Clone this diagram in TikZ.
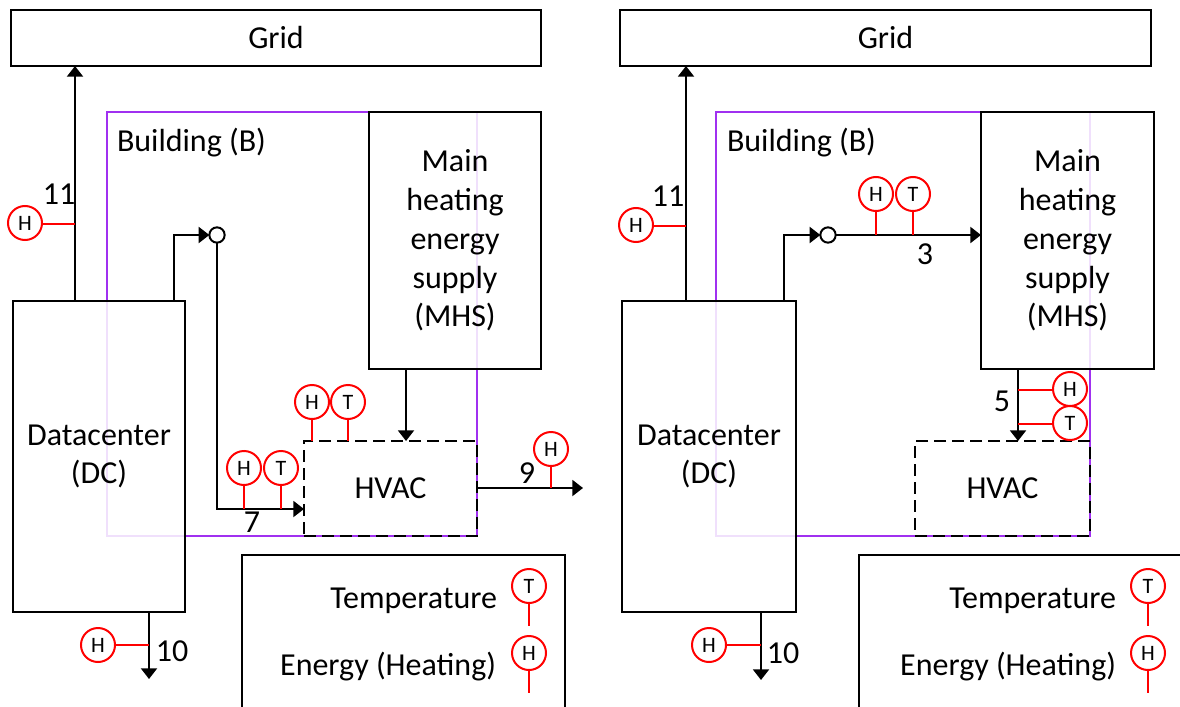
\documentclass[tikz,border=0pt]{standalone}
\usepackage{fontspec}
\setmainfont{Carlito}
\usetikzlibrary{arrows.meta}
\definecolor{bldg}{HTML}{A030F0}
\definecolor{sens}{HTML}{FF0000}
\newcommand{\bx}[7]{%
 \pgfmathsetmacro\bxcx{(#3+#5)/2}\pgfmathsetmacro\bxcy{(#4+#6)/2}%
 \pgfmathsetmacro\bxw{(#5-#3)*0.75}\pgfmathsetmacro\bxh{(#6-#4)*0.75}%
 \node[#1,minimum width=\bxw pt,minimum height=\bxh pt,label={[boxtext]center:{#7}}] (#2) at (\bxcx,\bxcy) {};}
\tikzset{
 x=0.75pt,y=-0.75pt,
 base/.style={inner sep=0pt,outer sep=0pt,font=\fontsize{24}{29.1}\selectfont,align=center},
 boxtext/.style={base},
 solidbox/.style={base,draw=black,line width=1.5pt,fill=white,fill opacity=0.85},
 dcbox/.style={solidbox,every label/.append style={yshift=-1.5pt}},
 mhsbox/.style={solidbox,every label/.append style={yshift=-0.75pt}},
 plainbox/.style={base,draw=black,line width=1.5pt,fill=white},
 hvacbox/.style={base,draw=black,line width=1.5pt,dash pattern=on 9pt off 4.5pt},
 legendbox/.style={base,draw=black,line width=1.5pt},
 wall/.style={draw=bldg,line width=1.5pt},
 wire/.style={draw=black,line width=1.5pt},
 flow/.style={wire,-{Triangle[width=12pt,length=8pt]}},
 sensor/.style={circle,draw=sens,line width=1.5pt,fill=white,inner sep=0pt,minimum size=25.5pt,outer sep=0pt,font=\fontsize{16.5}{16.5}\selectfont},
 stem/.style={draw=sens,line width=1.5pt},
 junction/.style={circle,draw=black,line width=1.5pt,fill=white,inner sep=0pt,minimum size=11.5pt,outer sep=0pt},
 lab/.style={inner sep=0pt,font=\fontsize{24}{28}\selectfont},
}
\begin{document}
\begin{tikzpicture}
\useasboundingbox (0,0) rectangle (1180,706);
\clip (0,0) rectangle (1180,706);
\fill[white] (0,0) rectangle (1180,706);
%%% LEFT PANEL
\bx{base,wall}{bL}{107}{112}{477}{536}{}
\bx{plainbox}{gridL}{11}{10}{541}{66}{Grid}
\bx{dcbox}{dcL}{13}{301}{185}{612}{Datacenter\\(DC)}
\bx{mhsbox}{mhsL}{369}{112}{541}{369}{Main\\heating\\energy\\supply\\(MHS)}
\bx{hvacbox}{hvacL}{304}{441}{477}{536}{HVAC}
\bx{legendbox}{legL}{242}{555}{565}{760}{}
\node[base,anchor=west] (bnameL) at (117,143) {Building (B)};
\coordinate (g1L) at (75,224);
\coordinate (d1L) at (174,235);
\coordinate (v1L) at (217,509);
\coordinate (m1L) at (406,441);
\coordinate (o1L) at (583,488);
\coordinate (s1L) at (149,645);
\coordinate (e1L) at (149,679);
\node[junction] (jL) at (217,235) {};
\draw[flow] (dcL.north -| g1L) -- (gridL.south -| g1L);
\draw[flow] (dcL.north -| d1L) -- (d1L) -- (jL.west);
\draw[flow] (jL.south) -- (v1L) -- (hvacL.west |- v1L);
\draw[flow] (mhsL.south -| m1L) -- (m1L);
\draw[flow] (hvacL.east |- o1L) -- (o1L);
\draw[flow] (dcL.south -| e1L) -- (e1L);
\node[sensor] (h1L) at (25,223) {H};
\draw[stem] (h1L.east |- g1L) -- (g1L);
\node[sensor] (h2L) at (312,402) {H};
\node[sensor] (t2L) at (348,402) {T};
\draw[stem] (h2L.south) -- (h2L.south |- hvacL.north);
\draw[stem] (t2L.south) -- (t2L.south |- hvacL.north);
\node[sensor] (h3L) at (244,468) {H};
\node[sensor] (t3L) at (281,468) {T};
\draw[stem] (h3L.south) -- (h3L.south |- v1L);
\draw[stem] (t3L.south) -- (t3L.south |- v1L);
\node[sensor] (h4L) at (551,449) {H};
\draw[stem] (h4L.south) -- (h4L.south |- o1L);
\node[sensor] (h5L) at (98,645) {H};
\draw[stem] (h5L.east) -- (s1L);
\node[lab] (n11L) at (59,194) {11};
\node[lab] (n7L) at (252,522) {7};
\node[lab] (n9L) at (527,473) {9};
\node[lab] (n10L) at (172,651) {10};
\node[base,anchor=east] (tempL) at (497,601) {Temperature};
\node[base,anchor=east] (enL) at (496,667) {Energy (Heating)};
\node[sensor] (ltL) at (529,586) {T};
\node[sensor] (lhL) at (529,653) {H};
\coordinate (lt2L) at (529,626);
\coordinate (lh2L) at (529,693);
\draw[stem] (ltL.south) -- (lt2L);
\draw[stem] (lhL.south) -- (lh2L);
%%% RIGHT PANEL
\bx{base,wall}{bR}{716}{112}{1090}{536}{}
\bx{plainbox}{gridR}{620}{10}{1151}{66}{Grid}
\bx{dcbox}{dcR}{622}{301}{796}{612}{Datacenter\\(DC)}
\bx{mhsbox}{mhsR}{981}{112}{1154}{369}{Main\\heating\\energy\\supply\\(MHS)}
\bx{hvacbox}{hvacR}{915}{441}{1090}{536}{HVAC}
\bx{legendbox}{legR}{859}{555}{1300}{760}{}
\node[base,anchor=west] (bnameR) at (727,143) {Building (B)};
\coordinate (g1R) at (686,226);
\coordinate (d1R) at (784,235);
\coordinate (m1R) at (1018,441);
\coordinate (s1R) at (761,645);
\coordinate (e1R) at (761,680);
\coordinate (w1R) at (1018,390);
\coordinate (w2R) at (1018,424);
\node[junction] (jR) at (828,235) {};
\draw[flow] (dcR.north -| g1R) -- (gridR.south -| g1R);
\draw[flow] (dcR.north -| d1R) -- (d1R) -- (jR.west);
\draw[flow] (jR.east) -- (mhsR.west |- jR);
\draw[flow] (mhsR.south -| m1R) -- (m1R);
\draw[flow] (dcR.south -| e1R) -- (e1R);
\node[sensor] (h1R) at (636,225) {H};
\draw[stem] (h1R.east |- g1R) -- (g1R);
\node[sensor] (h2R) at (876,194) {H};
\node[sensor] (t2R) at (913,194) {T};
\draw[stem] (h2R.south) -- (h2R.south |- jR);
\draw[stem] (t2R.south) -- (t2R.south |- jR);
\node[sensor] (h3R) at (1070,389) {H};
\node[sensor] (t3R) at (1070,423) {T};
\draw[stem] (w1R) -- (h3R.west |- w1R);
\draw[stem] (w2R) -- (t3R.west |- w2R);
\node[sensor] (h5R) at (709,645) {H};
\draw[stem] (h5R.east) -- (s1R);
\node[lab] (n11R) at (668,196) {11};
\node[lab] (n3R) at (925,254) {3};
\node[lab] (n5R) at (1002,401) {5};
\node[lab] (n10R) at (783,653) {10};
\node[base,anchor=east] (tempR) at (1116,601) {Temperature};
\node[base,anchor=east] (enR) at (1116,667) {Energy (Heating)};
\node[sensor] (ltR) at (1148,586) {T};
\node[sensor] (lhR) at (1148,653) {H};
\coordinate (lt2R) at (1148,626);
\coordinate (lh2R) at (1148,693);
\draw[stem] (ltR.south) -- (lt2R);
\draw[stem] (lhR.south) -- (lh2R);
\end{tikzpicture}
\end{document}
